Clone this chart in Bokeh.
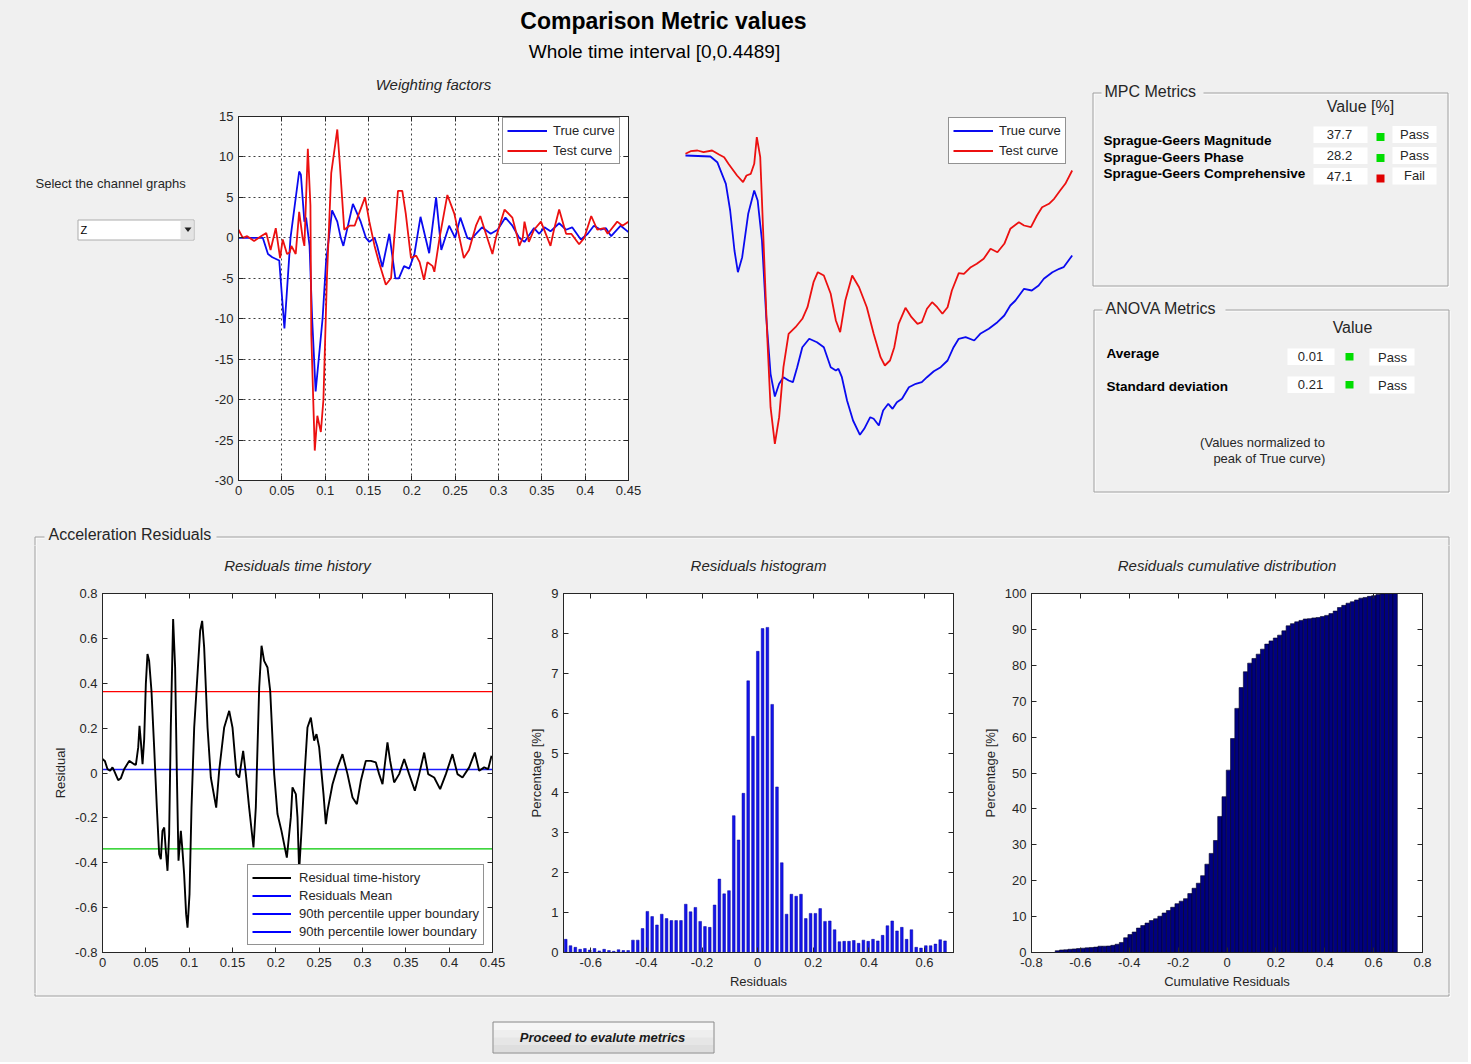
from bokeh.plotting import figure
from bokeh.layouts import row, column
from bokeh.models import (Range1d, FixedTicker, NumeralTickFormatter, Legend, LegendItem,
                          LinearAxis, CustomJSTickFormatter)
from bokeh.core.properties import value
from bokeh.embed import file_html
from bokeh.resources import INLINE

# ---------------- data ----------------
time_true = [0, 0.028, 0.034, 0.039, 0.047, 0.053, 0.060, 0.070, 0.072, 0.076, 0.078, 0.082, 0.085,
             0.089, 0.097, 0.101, 0.108, 0.114, 0.118, 0.121, 0.132, 0.141, 0.147, 0.151, 0.157, 0.160,
             0.166, 0.174, 0.181, 0.185, 0.191, 0.197, 0.203, 0.210, 0.220, 0.228, 0.234, 0.243, 0.250,
             0.256, 0.264, 0.268, 0.274, 0.281, 0.291, 0.299, 0.308, 0.316, 0.324, 0.330, 0.335, 0.341,
             0.347, 0.353, 0.360, 0.370, 0.378, 0.385, 0.395, 0.403, 0.410, 0.418, 0.424, 0.430, 0.441, 0.450]
acc_true = [0, 0, -2.0, -2.4, -2.8, -11.2, 0, 8.2, 7.8, 2.0, 2.5, -1.0, -10, -19.0, -10, -3, 3.4, 2.0, 0,
            -1.0, 4.2, 2.0, 0, -0.5, 0, -1.0, -3.6, 0.5, -5.0, -5.0, -3.5, -3.8, -2.0, 2.6, -1.9, 5.0, -1.5,
            1.5, 0, 2.5, 0, -0.2, 0.5, 1.3, 0.5, 1.0, 2.5, 1.5, 0, -0.5, 0.3, 1.2, 0.5, 1.3, 0.8, 1.8, 1.0,
            1.3, -0.2, 0.5, 1.5, 1.0, 1.2, 0.2, 1.5, 0.7]
time_test = [0, 0.005, 0.010, 0.018, 0.026, 0.032, 0.037, 0.043, 0.048, 0.051, 0.056, 0.059, 0.061, 0.066,
             0.070, 0.074, 0.076, 0.080, 0.083, 0.084, 0.088, 0.091, 0.095, 0.098, 0.102, 0.107, 0.114,
             0.117, 0.122, 0.128, 0.134, 0.139, 0.146, 0.151, 0.157, 0.162, 0.170, 0.176, 0.179, 0.184,
             0.189, 0.193, 0.199, 0.205, 0.209, 0.214, 0.218, 0.224, 0.226, 0.232, 0.241, 0.249, 0.255,
             0.260, 0.266, 0.274, 0.279, 0.284, 0.293, 0.297, 0.307, 0.316, 0.322, 0.324, 0.328, 0.330,
             0.335, 0.341, 0.349, 0.360, 0.364, 0.370, 0.378, 0.384, 0.393, 0.399, 0.407, 0.414, 0.422,
             0.426, 0.437, 0.443, 0.450]
acc_test = [1.0, 0, 0.2, -0.4, 0.2, 0.6, -1.5, 1.2, -2.5, -0.2, -2.0, -1.8, -1.0, -2.0, 3.2, 0, -1.0, 11.0,
            4.0, -12, -26.3, -22, -24, -20, -5, 8, 13.4, 9, 1, 1.5, 1.5, 3, 5, 2, -1, -3, -5.8, -5, -1, 5.8,
            5.8, 3, -2.5, -2.2, -3, -5.2, -3, -3.5, -4.2, 0, 5.3, 3, 0, -2.5, -1.5, 1.5, 2.7, 1, -2, 0, 3.5,
            2.5, 0, -1, 0, 2, -0.5, 1, 2, -1, 1, 3.5, 0.5, 0.5, -0.8, 0, 2.7, 1, 1.2, 0.5, 2, 1.5, 2]

vtime_true = [0, 0.029, 0.037, 0.047, 0.052, 0.057, 0.061, 0.066, 0.073, 0.080, 0.084, 0.089, 0.094, 0.099,
              0.104, 0.109, 0.114, 0.120, 0.125, 0.130, 0.136, 0.144, 0.153, 0.161, 0.169, 0.175, 0.178,
              0.182, 0.188, 0.195, 0.203, 0.208, 0.215, 0.219, 0.225, 0.230, 0.236, 0.241, 0.246, 0.252,
              0.260, 0.268, 0.275, 0.281, 0.289, 0.297, 0.305, 0.312, 0.318, 0.326, 0.336, 0.343, 0.353,
              0.363, 0.371, 0.378, 0.384, 0.394, 0.403, 0.411, 0.417, 0.427, 0.435, 0.440, 0.450]
vel_true = [0, -0.1, -0.67, -2.83, -5.5, -9.5, -11.67, -10.17, -5.83, -3.5, -4.5, -8.5, -16.17, -21.83, -24.1,
            -22.83, -22.17, -22.5, -22.67, -21.17, -19.17, -18.33, -18.67, -19.17, -21.17, -21.5, -21.33,
            -22.17, -24.5, -26.5, -27.93, -27.33, -26.17, -26.33, -27, -25.5, -24.83, -25.33, -24.67, -24.33,
            -23.17, -22.83, -22.67, -22.17, -21.57, -21.17, -20.5, -19.17, -18.33, -18.17, -18.5, -17.83,
            -17.33, -16.67, -16, -15, -14.5, -13.33, -13.5, -13, -12.33, -11.67, -11.33, -11.17, -10]
vtime_test = [0, 0.006, 0.014, 0.021, 0.031, 0.039, 0.045, 0.050, 0.060, 0.067, 0.071, 0.076, 0.080, 0.083,
              0.087, 0.089, 0.092, 0.095, 0.099, 0.104, 0.109, 0.114, 0.120, 0.128, 0.136, 0.142, 0.149,
              0.154, 0.161, 0.169, 0.175, 0.180, 0.186, 0.194, 0.202, 0.211, 0.219, 0.227, 0.232, 0.238,
              0.243, 0.248, 0.256, 0.263, 0.270, 0.275, 0.281, 0.287, 0.293, 0.299, 0.305, 0.310, 0.318,
              0.324, 0.332, 0.339, 0.347, 0.355, 0.363, 0.371, 0.378, 0.388, 0.394, 0.402, 0.409, 0.415,
              0.423, 0.429, 0.436, 0.442, 0.450]
vel_test = [0.17, 0.43, 0.5, 0.33, 0.5, 0.1, -0.17, -0.83, -2, -2.67, -2, -1.83, -0.83, 1.83, -0.17, -4.5,
            -11.17, -17.83, -25.17, -28.83, -26.17, -21.17, -17.83, -17.17, -16.33, -15.17, -12.67, -11.67,
            -12, -13.83, -16.5, -17.67, -14.5, -12, -13.17, -15.17, -17.83, -20.17, -21, -20.5, -19.17,
            -16.83, -15.23, -16.17, -16.83, -16.67, -15.33, -14.67, -15.17, -15.83, -15.17, -13.5, -11.77,
            -11.83, -11.17, -10.83, -10.33, -9.33, -9.67, -8.83, -7.33, -6.67, -7, -7.17, -6, -5.17, -4.83,
            -4.33, -3.5, -2.83, -1.5]

res_time = [0, 0.0027, 0.0058, 0.0088, 0.0115, 0.0135, 0.0181, 0.0212, 0.025, 0.0308,
            0.0365, 0.0385, 0.0412, 0.0427, 0.0442, 0.0462, 0.0481, 0.05, 0.0519, 0.0538,
            0.0565, 0.0596, 0.0627, 0.0654, 0.0673, 0.0692, 0.0712, 0.0731, 0.075, 0.0769,
            0.0788, 0.0815, 0.0838, 0.0858, 0.0877, 0.0904, 0.0923, 0.0942, 0.0965, 0.0981,
            0.1004, 0.1027, 0.1058, 0.1096, 0.1127, 0.115, 0.1173, 0.1212, 0.125, 0.1312,
            0.1346, 0.1404, 0.1462, 0.15, 0.1546, 0.1577, 0.1623, 0.1654, 0.1692, 0.1742,
            0.1769, 0.1808, 0.1835, 0.1865, 0.1904, 0.1935, 0.1981, 0.2019, 0.2065, 0.2127,
            0.2173, 0.2192, 0.2231, 0.225, 0.2269, 0.2296, 0.2327, 0.2365, 0.2404, 0.2442,
            0.2469, 0.25, 0.255, 0.2577, 0.2596, 0.2654, 0.2712, 0.2769, 0.2827, 0.2885,
            0.2935, 0.2981, 0.3038, 0.3096, 0.3154, 0.3192, 0.3231, 0.3258, 0.3288, 0.3319,
            0.3365, 0.3423, 0.3481, 0.3538, 0.3604, 0.3654, 0.3712, 0.3758, 0.3827, 0.3896,
            0.3962, 0.4038, 0.4096, 0.4154, 0.4231, 0.4296, 0.4346, 0.4404, 0.445, 0.4489]
residual = [0.062, 0.054, 0.017, 0.010, 0.025, 0.010, -0.032, -0.023, 0.017, 0.054,
            0.039, 0.036, 0.114, 0.21, 0.143, 0.039, 0.151, 0.396, 0.53, 0.50,
            0.366, 0.114, -0.154, -0.362, -0.384, -0.258, -0.243, -0.347, -0.436, -0.273,
            0.203, 0.686, 0.47, -0.005, -0.391, -0.258, -0.347, -0.451, -0.629, -0.689,
            -0.54, -0.154, 0.203, 0.44, 0.634, 0.678, 0.56, 0.203, -0.02, -0.154,
            0.01, 0.203, 0.277, 0.203, -0.005, -0.02, 0.099, -0.005, -0.154, -0.332,
            -0.154, 0.381, 0.567, 0.50, 0.47, 0.366, -0.005, -0.183, -0.258, -0.377,
            -0.198, -0.064, -0.094, -0.198, -0.436, -0.258, -0.035, 0.203, 0.247, 0.144,
            0.173, 0.114, -0.094, -0.228, -0.169, -0.05, 0.025, 0.084, -0.005, -0.109,
            -0.139, -0.035, 0.054, 0.054, 0.047, -0.005, -0.05, 0.039, 0.136, 0.054,
            -0.042, -0.005, 0.062, -0.005, -0.079, -0.005, 0.091, -0.005, -0.02, -0.072,
            -0.005, 0.084, -0.005, -0.02, 0.025, 0.091, 0.01, 0.025, 0.017, 0.077]
res_mean = 0.0156
res_upper = 0.363
res_lower = -0.338

hist_first_center = -0.69
hist_bin = 0.01726
hist_pct = [0.33, 0.17, 0.13, 0.08, 0.10, 0.06, 0.10, 0.04, 0.08, 0.05,
            0.03, 0.07, 0.05, 0.05, 0.31, 0.31, 0.60, 1.03, 0.90, 0.69,
            0.96, 0.85, 0.80, 0.80, 0.80, 1.21, 1.02, 1.13, 0.78, 0.65,
            0.63, 1.19, 1.84, 1.47, 1.55, 3.43, 2.82, 3.99, 6.81, 5.42,
            7.55, 8.12, 8.15, 6.22, 4.15, 2.25, 0.96, 1.46, 1.41, 1.46,
            0.85, 0.98, 0.98, 1.10, 0.78, 0.79, 0.57, 0.27, 0.28, 0.28,
            0.30, 0.23, 0.31, 0.28, 0.33, 0.29, 0.43, 0.67, 0.79, 0.54,
            0.63, 0.33, 0.57, 0.13, 0.11, 0.17, 0.17, 0.21, 0.32, 0.29]

cum_first_left = -0.703
cum_bin = 0.0175
cum_pct = [0.5, 0.7, 0.75, 0.9, 1.0, 1.1, 1.2, 1.3, 1.4, 1.5, 1.75, 1.75, 1.8, 2.0, 2.3, 2.8, 4.1, 5.0,
           5.7, 6.8, 7.5, 8.2, 8.9, 9.4, 10.1, 11.0, 11.7, 12.6, 13.6, 14.3, 15.0, 16.4, 17.9, 19.3,
           21.4, 24.6, 27.6, 31.2, 37.9, 43.4, 50.8,
           59.6, 68.0, 73.8, 78.2, 80.6, 81.9, 83.1, 84.5, 85.9, 86.8, 87.6, 88.4, 89.6, 91.0, 91.6,
           92.1, 92.5, 92.9, 93.0, 93.2, 93.3, 93.6, 93.9, 94.4, 95.1, 96.1, 96.7, 97.3, 97.7, 98.2,
           98.7, 98.9, 99.2, 99.4, 99.7, 99.9, 100.0, 100.0, 100.0]

mpc_names = ["Sprague-Geers Magnitude", "Sprague-Geers Phase", "Sprague-Geers Comprehensive"]
mpc_values = ["37.7", "28.2", "47.1"]
mpc_status = ["Pass", "Pass", "Fail"]
anova_names = ["Average", "Standard deviation"]
anova_values = ["0.01", "0.21"]
anova_status = ["Pass", "Pass"]

ticks_t = [0, 0.05, 0.1, 0.15, 0.2, 0.25, 0.3, 0.35, 0.4, 0.45]
ticks_acc = [-30, -25, -20, -15, -10, -5, 0, 5, 10, 15]
ticks_res = [-0.8, -0.6, -0.4, -0.2, 0, 0.2, 0.4, 0.6, 0.8]
ticks_hx = [-0.6, -0.4, -0.2, 0, 0.2, 0.4, 0.6]
ticks_hy = [0, 1, 2, 3, 4, 5, 6, 7, 8, 9]
ticks_cy = [0, 10, 20, 30, 40, 50, 60, 70, 80, 90, 100]

# ---------------- style helpers ----------------
BG = "#f0f0f0"
AX = "#262626"
FONT = "Liberation Sans"
BLUE = "#0a0af0"
RED = "#ec1010"
NAN = float("nan")


def no_align(p):
    try:
        p.frame_align = False
    except Exception:
        pass
    return p


def bare(w, h, xr, yr):
    p = figure(width=w, height=h, x_range=xr, y_range=yr, title=None,
               output_backend="svg", toolbar_location=None,
               x_axis_location=None, y_axis_location=None,
               min_border=0, min_border_left=0, min_border_right=0,
               min_border_top=0, min_border_bottom=0)
    p.background_fill_color = BG
    p.border_fill_color = BG
    p.outline_line_color = None
    p.grid.visible = False
    return no_align(p)


def canvas(x0, y0, w, h):
    return bare(w, h, Range1d(x0, x0 + w), Range1d(y0 + h, y0))


def txt(p, x, y, s, size="13px", style="normal", align="left", color="black"):
    p.text(x=[x], y=[y], text=[s], text_font=value(FONT), text_font_size=size,
           text_font_style=style, text_align=align, text_baseline="middle", text_color=color)


def groupbox(p, x0, y0, x1, y1, title, gap0, gap1, ty):
    for off, col in ((1, "#ffffff"), (0, "#a0a0a0")):
        xs = [x0 + off + .5, x1 + off + .5, x1 + off + .5, x0 + off + .5, x0 + off + .5]
        ys = [y0 + off + .5, y0 + off + .5, y1 + off + .5, y1 + off + .5, y0 + off + .5]
        p.line(xs, ys, line_color=col, line_width=1)
    p.quad(left=gap0, right=gap1, top=y0 - 5, bottom=y0 + 5, fill_color=BG, line_color=None)
    txt(p, gap0 + 3, ty, title, size="16px", color=AX)


def chart(w, h, xr, yr, bl, br, bt, bb):
    p = figure(width=w, height=h, x_range=Range1d(*xr), y_range=Range1d(*yr), title=None,
               output_backend="svg", toolbar_location=None,
               min_border_left=bl, min_border_right=br, min_border_top=bt, min_border_bottom=bb)
    p.background_fill_color = "white"
    p.border_fill_color = BG
    p.outline_line_color = AX
    p.grid.visible = False
    return no_align(p)


def style_axes(p, xt, yt, xfmt, yfmt, title, gap, xlabel=None, ylabel=None):
    p.xaxis.ticker = FixedTicker(ticks=xt)
    p.yaxis.ticker = FixedTicker(ticks=yt)
    p.xaxis.formatter = NumeralTickFormatter(format=xfmt)
    p.yaxis.formatter = NumeralTickFormatter(format=yfmt)
    for ax in list(p.xaxis) + list(p.yaxis):
        ax.major_tick_in = 5
        ax.major_tick_out = 0
        ax.minor_tick_line_color = None
        ax.axis_line_color = AX
        ax.major_tick_line_color = AX
        ax.major_label_text_font = FONT
        ax.major_label_text_font_size = "13px"
        ax.major_label_text_color = AX
        ax.major_label_standoff = 5
        ax.axis_label_text_font = FONT
        ax.axis_label_text_font_size = "13px"
        ax.axis_label_text_font_style = "normal"
        ax.axis_label_text_color = AX
        ax.axis_label_standoff = 4
    if xlabel:
        p.xaxis.axis_label = xlabel
    if ylabel:
        p.yaxis.axis_label = ylabel
    # mirrored box ticks; the top one carries the italic chart title
    top = LinearAxis(ticker=FixedTicker(ticks=xt),
                     formatter=CustomJSTickFormatter(code="return ''"),
                     major_label_standoff=0, major_tick_in=5, major_tick_out=0,
                     minor_tick_line_color=None, axis_line_color=AX, major_tick_line_color=AX,
                     axis_label=title, axis_label_standoff=gap,
                     axis_label_text_font=FONT, axis_label_text_font_size="15px",
                     axis_label_text_font_style="italic", axis_label_text_color=AX)
    p.add_layout(top, "above")
    right = LinearAxis(ticker=FixedTicker(ticks=yt),
                       formatter=CustomJSTickFormatter(code="return ''"),
                       major_label_standoff=0, major_tick_in=5, major_tick_out=0,
                       minor_tick_line_color=None, axis_line_color=AX, major_tick_line_color=AX)
    p.add_layout(right, "right")


def legend(p, items, loc, glyph_w=40, padding=4, spacing=2, standoff=6):
    lg = Legend(items=items, location=loc)
    lg.label_text_font = FONT
    lg.label_text_font_size = "13px"
    lg.label_text_color = AX
    lg.glyph_width = glyph_w
    lg.glyph_height = 17
    lg.label_height = 17
    lg.label_standoff = standoff
    lg.spacing = spacing
    lg.padding = padding
    lg.margin = 0
    lg.border_line_color = AX
    lg.border_line_width = 1
    lg.background_fill_color = "white"
    lg.background_fill_alpha = 1
    p.add_layout(lg)


TOP_Y = 72   # bottom of the header strip

# ---------------- header ----------------
hdr = canvas(0, 0, 1468, TOP_Y)
txt(hdr, 663, 20, "Comparison Metric values", size="23px", style="bold", align="center")
txt(hdr, 654, 51, "Whole time interval [0,0.4489]", size="19px", align="center")

ROW_H = 513 - TOP_Y

# ---------------- left control panel ----------------
lp = canvas(0, TOP_Y, 200, ROW_H)
txt(lp, 35, 183, "Select the channel graphs", size="13px", color=AX)
lp.quad(left=77.5, right=193.5, top=219.5, bottom=239.5, fill_color="white", line_color="#acacac")
lp.quad(left=180, right=193, top=220, bottom=239, fill_color="#e4e4e4", line_color=None)
lp.patch(x=[184, 191, 187.5], y=[227, 227, 231.5], fill_color="#202020", line_color=None)
txt(lp, 80, 229, "Z", size="11px")

# ---------------- chart 1 : weighting factors ----------------
p1 = chart(450, ROW_H, (0, 0.45), (-30, 15), 38, 22, 115 - TOP_Y, 33)
style_axes(p1, ticks_t, ticks_acc, "0.[00]", "0", "Weighting factors", 24)
p1.grid.visible = True
p1.grid.grid_line_color = "black"
p1.grid.grid_line_alpha = 0.75
p1.grid.grid_line_dash = "2 3"
r_true = p1.line(time_true, acc_true, line_color=BLUE, line_width=1.8)
r_test = p1.line(time_test, acc_test, line_color=RED, line_width=1.8)
legend(p1, [LegendItem(label="True curve", renderers=[r_true]),
            LegendItem(label="Test curve", renderers=[r_test])], (264, 316), padding=4, spacing=3)

# ---------------- chart 2 : integrated curves (no axes) ----------------
# frame spans page y 72..513 -> value = (155 - y) / 10
p2 = bare(435, ROW_H, Range1d(-0.0407, 0.4655), Range1d(-35.8, (155 - TOP_Y) / 10))
v_true = p2.line(vtime_true, vel_true, line_color=BLUE, line_width=1.8)
v_test = p2.line(vtime_test, vel_test, line_color=RED, line_width=1.8)
legend(p2, [LegendItem(label="True curve", renderers=[v_true]),
            LegendItem(label="Test curve", renderers=[v_test])], (298, 349), padding=4, spacing=3)

# ---------------- right panel : metrics tables ----------------
rp = canvas(1085, TOP_Y, 383, ROW_H)
groupbox(rp, 1092, 92, 1447, 285, "MPC Metrics", 1101, 1203, 91)
txt(rp, 1360, 106, "Value [%]", size="16px", align="center", color=AX)
mpc_label_y = [140, 157, 173]
mpc_box_top = [126, 147, 167.5]
for i in range(len(mpc_names)):
    txt(rp, 1103, mpc_label_y[i], mpc_names[i], size="13.5px", style="bold")
    t0 = mpc_box_top[i]
    rp.quad(left=1313, right=1367, top=t0, bottom=t0 + 16.5, fill_color="white", line_color=None)
    rp.quad(left=1392, right=1436, top=t0 - 0.5, bottom=t0 + 16.5, fill_color="white", line_color=None)
    col = "#00dd00" if mpc_status[i] == "Pass" else "#e00000"
    rp.quad(left=1376, right=1384, top=t0 + 6.5, bottom=t0 + 14.5, fill_color=col, line_color=None)
    txt(rp, 1339, t0 + 8, mpc_values[i], size="13px", align="center", color=AX)
    txt(rp, 1414, t0 + 7.5, mpc_status[i], size="13px", align="center", color=AX)

groupbox(rp, 1093, 309, 1448, 491, "ANOVA Metrics", 1102, 1225, 308)
txt(rp, 1352, 327, "Value", size="16px", align="center", color=AX)
anova_label_y = [353, 386]
anova_box_top = [348, 376]
for i in range(len(anova_names)):
    txt(rp, 1106, anova_label_y[i], anova_names[i], size="13.5px", style="bold")
    t0 = anova_box_top[i]
    rp.quad(left=1287, right=1334, top=t0, bottom=t0 + 16.5, fill_color="white", line_color=None)
    rp.quad(left=1369, right=1414, top=t0, bottom=t0 + 17, fill_color="white", line_color=None)
    rp.quad(left=1345, right=1353, top=t0 + 4.5, bottom=t0 + 12, fill_color="#00dd00", line_color=None)
    txt(rp, 1310, t0 + 8, anova_values[i], size="13px", align="center", color=AX)
    txt(rp, 1392, t0 + 8.5, anova_status[i], size="13px", align="center", color=AX)
txt(rp, 1262, 442, "(Values normalized to", size="13px", align="center", color=AX)
txt(rp, 1269, 458, "peak of True curve)", size="13px", align="center", color=AX)

# ---------------- group box "Acceleration Residuals" strips ----------------
GB_L, GB_R, GB_T, GB_B = 34, 1448, 536, 995
ts = canvas(0, 513, 1468, 32)
for off, col in ((1, "#ffffff"), (0, "#a0a0a0")):
    ts.line([GB_L + off + .5, GB_R + off + .5], [GB_T + off + .5, GB_T + off + .5], line_color=col)
    ts.line([GB_L + off + .5, GB_L + off + .5], [GB_T + off + .5, 546], line_color=col)
    ts.line([GB_R + off + .5, GB_R + off + .5], [GB_T + off + .5, 546], line_color=col)
ts.quad(left=44, right=216, top=GB_T - 5, bottom=GB_T + 5, fill_color=BG, line_color=None)
txt(ts, 48, 534, "Acceleration Residuals", size="16px", color=AX)

ls = canvas(0, 545, 45, 448)
rs = canvas(1440, 545, 28, 448)
for off, col in ((1, "#ffffff"), (0, "#a0a0a0")):
    ls.line([GB_L + off + .5, GB_L + off + .5], [544, 994], line_color=col)
    rs.line([GB_R + off + .5, GB_R + off + .5], [544, 994], line_color=col)

bs = canvas(0, 993, 1468, 69)
for off, col in ((1, "#ffffff"), (0, "#a0a0a0")):
    bs.line([GB_L + off + .5, GB_L + off + .5, GB_R + off + .5, GB_R + off + .5],
            [992, GB_B + off + .5, GB_B + off + .5, 992], line_color=col)
# button
shades = ["#f6f6f6", "#eeeeee", "#e6e6e6", "#dedede"]
for k, c in enumerate(shades):
    bs.quad(left=493, right=713, top=1022 + k * 7.5, bottom=1022 + (k + 1) * 7.5, fill_color=c, line_color=None)
bs.quad(left=492.5, right=713.5, top=1021.5, bottom=1052.5, fill_color=None, line_color="#8a8a8a")
txt(bs, 602, 1037, "Proceed to evalute metrics", size="13px", style="bold italic", align="center",
    color="#1a1a1a")

# ---------------- chart 3 : residual time history ----------------
p3 = chart(465, 448, (0, 0.45), (-0.8, 0.8), 57, 18, 48, 41)
style_axes(p3, ticks_t, ticks_res, "0.[00]", "0.[0]", "Residuals time history", 20, ylabel="Residual")
full_x = [ticks_t[0], ticks_t[-1]]
p3.line(full_x, [res_upper, res_upper], line_color="#ff0000", line_width=1.2)
p3.line(full_x, [res_lower, res_lower], line_color="#00c800", line_width=1.2)
p3.line(full_x, [res_mean, res_mean], line_color="#1a1aff", line_width=1.6)
# legend keys (the figure's legend shows all three boundaries in blue)
key_x = [NAN, NAN]
r_m = p3.line(key_x, key_x, line_color="#0000ff", line_width=2)
r_u = p3.line(key_x, key_x, line_color="#0000ff", line_width=2)
r_l = p3.line(key_x, key_x, line_color="#0000ff", line_width=2)
r_res = p3.line(res_time, residual, line_color="black", line_width=1.9)
legend(p3, [LegendItem(label="Residual time-history", renderers=[r_res]),
            LegendItem(label="Residuals Mean", renderers=[r_m]),
            LegendItem(label="90th percentile upper boundary", renderers=[r_u]),
            LegendItem(label="90th percentile lower boundary", renderers=[r_l])], (145, 7),
       glyph_w=39, padding=4, spacing=1, standoff=8)

# ---------------- chart 4 : histogram ----------------
p4 = chart(465, 448, (-0.698, 0.704), (0, 9), 53, 22, 48, 41)
style_axes(p4, ticks_hx, ticks_hy, "0.[0]", "0", "Residuals histogram", 20,
           xlabel="Residuals", ylabel="Percentage [%]")
hist_x = [hist_first_center + i * hist_bin for i in range(len(hist_pct))]
p4.vbar(x=hist_x, top=hist_pct, width=hist_bin * 0.56, bottom=0,
        fill_color="#1414ea", line_color="#0000a0", line_width=0.5)

# ---------------- chart 5 : cumulative distribution ----------------
p5 = chart(465, 448, (-0.8, 0.8), (0, 100), 56, 18, 48, 41)
style_axes(p5, ticks_res, ticks_cy, "0.[0]", "0", "Residuals cumulative distribution", 20,
           xlabel="Cumulative Residuals", ylabel="Percentage [%]")
cum_x = [cum_first_left + (i + 0.5) * cum_bin for i in range(len(cum_pct))]
p5.vbar(x=cum_x, top=cum_pct, width=cum_bin, bottom=0,
        fill_color="#000080", line_color="#000020", line_width=0.6)

# ---------------- layout ----------------
layout = column(
    hdr,
    row(lp, p1, p2, rp, styles={"background-color": BG}),
    ts,
    row(ls, p3, p4, p5, rs, styles={"background-color": BG}),
    bs,
    styles={"background-color": BG},
)

open("out.html", "w").write(file_html(layout, INLINE))
